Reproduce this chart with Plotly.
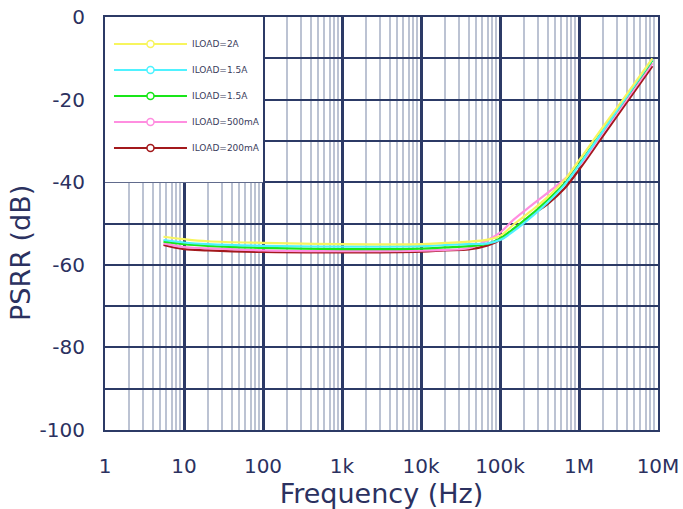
import plotly.graph_objects as go

# frequency points (Hz)
freq_hz = [5.5, 10, 20, 100, 1e3, 1e4, 2e4, 4e4, 7e4, 1e5, 1.5e5, 2.5e5,
           4e5, 6.5e5, 1e6, 1.8e6, 3.5e6, 8.5e6]

# PSRR (dB) for each load
psrr_2a = [-53.2, -53.8, -54.3, -54.7, -55.0, -55.0, -54.7, -54.4, -53.9, -53.0,
           -50.2, -46.9, -43.6, -39.5, -34.7, -27.9, -20.3, -10.0]
psrr_1a5_cyan = [-54.0, -54.6, -55.0, -55.4, -55.6, -55.5, -55.2, -55.0, -54.8, -54.0,
                 -51.8, -48.4, -44.9, -40.7, -35.9, -28.9, -20.9, -10.2]
psrr_1a5_green = [-54.4, -55.0, -55.4, -55.9, -56.2, -56.1, -55.8, -55.5, -54.9, -53.6,
                  -51.2, -47.8, -44.3, -40.4, -35.7, -28.8, -21.0, -10.5]
psrr_500ma = [-54.8, -55.7, -56.0, -56.5, -56.7, -56.6, -56.4, -56.0, -54.0, -52.2,
              -49.0, -45.6, -42.6, -39.3, -36.1, -29.3, -21.6, -11.2]
psrr_200ma = [-55.2, -56.2, -56.5, -56.9, -57.0, -56.8, -56.5, -56.3, -55.3, -54.0,
              -51.5, -48.0, -45.3, -41.6, -37.0, -30.1, -22.3, -11.9]

series_names = ['ILOAD=2A', 'ILOAD=1.5A', 'ILOAD=1.5A', 'ILOAD=500mA', 'ILOAD=200mA']
series_values = [psrr_2a, psrr_1a5_cyan, psrr_1a5_green, psrr_500ma, psrr_200ma]
series_colors = ['#f7f55e', '#4ff2ff', '#19e619', '#ff8ee0', '#a3191c']

x_tickvals = [1, 10, 100, 1e3, 1e4, 1e5, 1e6, 1e7]
x_ticktext = ['1', '10', '100', '1k', '10k', '100k', '1M', '10M']
y_tickvals = [-100, -80, -60, -40, -20, 0]
y_ticktext = ['-100', '-80', '-60', '-40', '-20', '0']

navy = '#2c3a66'
text_col = '#2b3160'
font_fam = 'DejaVu Sans'

fig = go.Figure()

# draw curves back to front so yellow sits on top like the original
for name, vals, col in list(zip(series_names, series_values, series_colors))[::-1]:
    fig.add_trace(go.Scatter(
        x=freq_hz, y=vals, mode='lines', name=name,
        line=dict(color=col, width=2.2, shape='spline', smoothing=1),
        showlegend=False, hoverinfo='skip',
    ))

# legend entries (line + open marker)
for i, (name, col) in enumerate(zip(series_names, series_colors)):
    fig.add_trace(go.Scatter(
        x=[None], y=[None], mode='lines+markers', name=name,
        legendgroup='g%d' % i, legendrank=i,
        line=dict(color=col, width=2),
        marker=dict(symbol='circle', size=7, color='white', line=dict(color=col, width=1.5)),
    ))

# white box behind the legend (covers the grid from 1 to 100 Hz, 0 to -40 dB)
fig.add_shape(type='rect', xref='x', yref='y', x0=1, x1=100, y0=-40, y1=0,
              fillcolor='white', line_width=0, layer='between')

# y title sits a bit below the middle in the original
fig.add_annotation(text='PSRR (dB)', xref='paper', yref='paper', x=-0.152, y=0.4286,
                   xanchor='center', yanchor='middle', textangle=-90, showarrow=False,
                   font=dict(size=27, color=text_col, family=font_fam))

fig.update_layout(
    width=683, height=509,
    margin=dict(l=105, r=25, t=17, b=79),
    paper_bgcolor='white', plot_bgcolor='white',
    font=dict(family=font_fam, color=text_col),
    legend=dict(
        x=0.0072, y=0.97, xanchor='left', yanchor='top',
        bgcolor='rgba(0,0,0,0)', borderwidth=0,
        font=dict(size=9, color='#3a3d5c', family=font_fam),
        itemwidth=73, tracegroupgap=7,
    ),
)

fig.update_xaxes(
    type='log', range=[0, 7], automargin=False, ticklabeloverflow='allow',
    tickmode='array', tickvals=x_tickvals, ticktext=x_ticktext,
    tickfont=dict(size=20, color=text_col), ticks='', ticklabelstandoff=17,
    showgrid=True, gridcolor=navy, gridwidth=2.5,
    minor=dict(dtick='D1', showgrid=True, gridcolor='#bcc3d3', gridwidth=1.5, ticks=''),
    showline=True, linecolor=navy, linewidth=2, mirror=True,
    title=dict(text='Frequency (Hz)', font=dict(size=27, color=text_col), standoff=6),
    zeroline=False,
)
fig.update_yaxes(
    range=[-100, 0], automargin=False, ticklabeloverflow='allow',
    tickmode='array', tickvals=y_tickvals, ticktext=y_ticktext,
    tickfont=dict(size=20, color=text_col), ticks='', ticklabelstandoff=14,
    showgrid=True, gridcolor=navy, gridwidth=1.8,
    minor=dict(dtick=10, showgrid=True, gridcolor=navy, gridwidth=1.8, ticks=''),
    showline=True, linecolor=navy, linewidth=2, mirror=True,
    zeroline=False,
)

# drop the page's default body margin so the figure fills the window
fig.write_html("out.html", config={'displayModeBar': False},
               post_script="document.body.style.margin='0';document.body.style.overflow='hidden';")
